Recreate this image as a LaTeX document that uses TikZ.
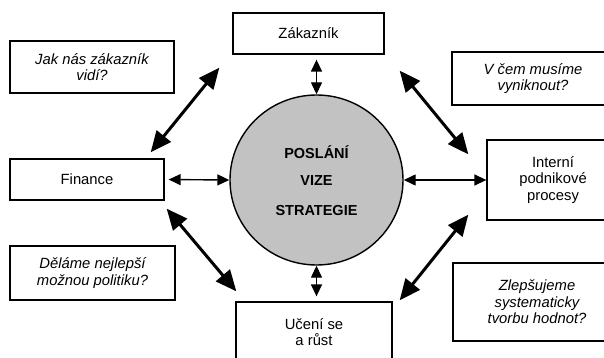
\documentclass[tikz,border=0pt]{standalone}
\usepackage{fontspec}
\setmainfont{Liberation Sans}
\usetikzlibrary{arrows.meta,calc,shapes.geometric}

\begin{document}
\begin{tikzpicture}[x=1pt,y=-1pt,
  box/.style={draw=black, line width=1.3pt, inner sep=0pt, align=center,
    font=\fontsize{14.8}{16.5}\selectfont},
  qbox/.style={box, font=\fontsize{14.8}{16.5}\selectfont\itshape},
  core/.style={ellipse, draw=black, line width=1.4pt, fill=black!24, inner sep=0pt,
    minimum width=173pt, minimum height=170pt},
  corelabel/.style={font=\fontsize{14.5}{16}\selectfont\bfseries},
  thin/.style={line width=1.4pt, {Triangle[length=12pt,width=11pt]}-{Triangle[length=12pt,width=11pt]}},
  thick/.style={line width=3pt, {Triangle[length=21pt,width=18pt]}-{Triangle[length=21pt,width=18pt]}},
]
\useasboundingbox (0,0) rectangle (604,358);
\clip (0,0) rectangle (604,358);
\fill[white] (0,0) rectangle (604,358);

% centre: mission, vision, strategy
\node[core] (vis) at (316.5,180) {};
\node[corelabel] (vis1) at (316.5,152) {POSLÁNÍ};
\node[corelabel] (vis2) at (316.5,181) {VIZE};
\node[corelabel] (vis3) at (316.5,211) {STRATEGIE};

% four perspectives
\node[box, minimum width=151pt, minimum height=41pt] (zak) at (308.5,33.5) {Zákazník};
\node[box, minimum width=154pt, minimum height=41pt] (fin) at (87,179.5) {Finance};
\node[box, minimum width=132pt, minimum height=80pt] (int) at (553,180) {Interní\\podnikové\\procesy};
\node[box, minimum width=156pt, minimum height=60pt] (uc) at (314,332) {Učení se\\a růst};

% guiding questions
\node[qbox, minimum width=164pt, minimum height=52pt] (jak) at (92,67) {Jak nás zákazník\\vidí?};
\node[qbox, minimum width=162pt, minimum height=53pt] (vcem) at (533,78.5) {V čem musíme\\vyniknout?};
\node[qbox, minimum width=165pt, minimum height=54pt] (del) at (92.5,273) {Děláme nejlepší\\možnou politiku?};
\node[qbox, minimum width=168pt, minimum height=78pt] (zle) at (537,302) {Zlepšujeme\\systematicky\\tvorbu hodnot?};

% links between the centre and the perspectives
\draw[thin, shorten <=5pt] (zak.south -| vis.north) -- (vis.north);
\draw[thin, shorten >=5pt] (vis.south) -- (vis.south |- uc.north);
\draw[thin, shorten <=4pt] (fin.east) -- (vis.west);
\draw[thin] (vis.east) -- (int.west);

% links around the perspectives
\draw[thick] ([shift={(-13,13)}]zak.south west) -- ([shift={(-14,-6)}]fin.north east);
\draw[thick] ([shift={(15,16)}]zak.south east) -- ([shift={(-18,15)}]int.north west);
\draw[thick] ([shift={(2,8)}]fin.south east) -- ([shift={(1,-10)}]uc.north west);
\draw[thick] ([shift={(-18,-6)}]int.south west) -- ([shift={(7,-1)}]uc.north east);
\end{tikzpicture}
\end{document}
